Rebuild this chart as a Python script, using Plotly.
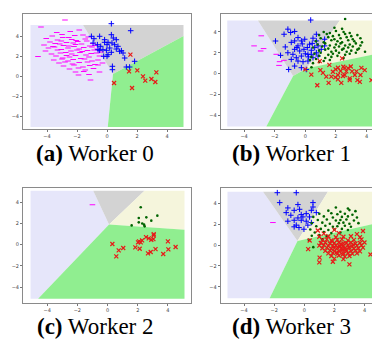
import plotly.graph_objects as go

# ---------------- decision-region polygons (data coordinates) ----------------
# Worker 0
a_lav_rx = [-5.1, -5.1, -1.6, 0.4, 0.05]
a_lav_ry = [-5.1, 5.1, 5.1, 0.2, -5.1]
a_gray_rx = [-1.6, 5.1, 5.1, 0.4]
a_gray_ry = [5.1, 5.1, 4.0, 0.2]
a_grn_rx = [0.4, 5.1, 5.1, 0.05]
a_grn_ry = [0.2, 4.0, -5.1, -5.1]
# Worker 1
b_lav_rx = [-5.1, -5.1, -3.1, -0.8, -2.55]
b_lav_ry = [-5.1, 5.1, 5.1, -0.25, -5.1]
b_gray_rx = [-3.1, 2.25, 0.1, -0.8]
b_gray_ry = [5.1, 5.1, 0.5, -0.25]
b_beige_rx = [2.25, 5.1, 5.1, 0.1]
b_beige_ry = [5.1, 5.1, 2.05, 0.5]
b_grn_rx = [-0.8, 0.1, 5.1, 5.1, -2.55]
b_grn_ry = [-0.25, 0.5, 2.05, -5.1, -5.1]
# Worker 2
c_lav_rx = [-5.1, -5.1, -0.95, 0.1, -4.6]
c_lav_ry = [-5.1, 5.1, 5.1, 1.9, -5.1]
c_gray_rx = [-0.95, 2.45, 0.1]
c_gray_ry = [5.1, 5.1, 1.9]
c_beige_rx = [2.45, 5.1, 5.1, 0.1]
c_beige_ry = [5.1, 5.1, 1.4, 1.9]
c_grn_rx = [0.1, 5.1, 5.1, -4.6]
c_grn_ry = [1.9, 1.4, -5.1, -5.1]
# Worker 3
d_lav_rx = [-5.1, -5.1, -2.74, -0.45, -2.3]
d_lav_ry = [-5.1, 5.1, 5.1, 0.4, -5.1]
d_gray_rx = [-2.74, 1.57, -0.45]
d_gray_ry = [5.1, 5.1, 0.4]
d_beige_rx = [1.57, 5.1, 5.1, -0.45]
d_beige_ry = [5.1, 5.1, 2.2, 0.4]
d_grn_rx = [-0.45, 5.1, 5.1, -2.3]
d_grn_ry = [0.4, 2.2, -5.1, -5.1]

# ---------------- samples ----------------
# Worker 0
a_mag_x = [-4.4, -2.8, -2.45, -3.35, -1.85, -3.65, -3.0, -2.55, -2.15, -1.6, -1.25,
           -4.05, -3.3, -2.95, -2.35, -2.05, -1.45, -3.8, -3.45, -3.05, -2.7, -2.25, -1.95, -1.35, -0.95,
           -4.2, -3.6, -3.15, -2.9, -2.55, -2.1, -1.7, -1.15, -0.8,
           -3.9, -3.5, -3.05, -2.6, -2.2, -1.85, -1.55, -1.0, -0.65,
           -4.1, -3.3, -2.75, -2.4, -2.0, -1.65, -1.3, -0.85, -0.4,
           -3.7, -3.1, -2.7, -2.35, -1.8, -1.4, -1.05, -0.7,
           -4.6, -3.4, -2.95, -2.5, -2.1, -1.75, -1.2, -0.5,
           -3.55, -3.0, -2.6, -2.25, -1.5, -1.0, -0.6,
           -3.2, -2.8, -2.3, -1.85, -1.3, -0.8, -0.3,
           -2.9, -2.2, -1.6, -1.15, -0.6,
           -2.5, -1.9, -1.45, -0.9, -2.1, -1.55, -0.5, -1.9, -1.2, -1.1]
a_mag_y = [4.9, 5.6, 4.45, 4.35, 4.6, 4.0, 4.15, 3.85, 4.05, 4.1, 3.9,
           3.75, 3.6, 3.85, 3.65, 3.55, 3.7, 3.4, 3.25, 3.5, 3.35, 3.3, 3.45, 3.5, 3.25,
           3.1, 2.95, 3.2, 3.05, 3.0, 3.15, 3.2, 3.0, 3.05,
           2.8, 2.9, 2.65, 2.8, 2.95, 2.7, 2.85, 2.9, 2.7,
           2.5, 2.6, 2.35, 2.5, 2.6, 2.45, 2.55, 2.6, 2.4,
           2.2, 2.3, 2.05, 2.2, 2.35, 2.1, 2.25, 2.3,
           1.95, 2.0, 1.8, 1.9, 2.05, 1.75, 1.9, 2.0,
           1.6, 1.7, 1.5, 1.65, 1.7, 1.5, 1.6,
           1.3, 1.4, 1.2, 1.35, 1.4, 1.15, 1.3,
           1.0, 1.1, 0.9, 1.05, 1.1,
           0.7, 0.8, 0.6, 0.75, 0.4, 0.45, 0.4, 0.1, 0.15, -0.4]
a_blue_x = [0.29, 1.58, -1.04, -0.49, -0.87, 0.29, 0.42, 0.62, -0.93, -0.16, 0.07, 0.0,
            0.33, 0.51, 0.73, 0.62, -0.42, -0.27, -0.04, -0.49, 0.07, 0.29, 0.84, 1.07,
            0.96, 1.18, 1.84, 1.29, 1.51, 0.36, 0.36, 0.0, -0.22, -0.64, -0.16, -0.6, 0.18]
a_blue_y = [5.23, 4.53, 3.97, 3.97, 3.73, 4.13, 3.8, 3.63, 3.3, 3.37, 3.37, 3.13,
            3.3, 3.13, 2.97, 2.7, 2.97, 2.63, 2.57, 2.57, 2.13, 2.37, 2.47, 2.3,
            2.53, 1.8, 1.47, 0.9, 0.9, 0.97, 0.63, 1.97, 1.97, 3.13, 3.63, 2.63, 2.8]
a_red_x = [1.56, 1.47, 2.02, 2.4, 2.55, 2.96, 3.29, 3.22, 0.47, 1.67]
a_red_y = [2.13, 0.47, 0.57, -0.03, -0.47, -0.3, 0.37, -0.6, -0.7, -1.2]

# Worker 1
b_mag_x = [-2.88, -3.35, -2.92, -2.73, -1.9, -1.68, -1.4, -1.72]
b_mag_y = [3.63, 2.66, 2.17, 2.4, 1.85, 1.14, 1.27, 0.78]
b_blue_x = [0.35, -1.14, -0.96, -0.7, -1.95, -1.39, -0.48, -0.92, -0.26, -0.04, 0.5, 0.72,
            0.28, -0.48, -0.7, -0.37, -0.09, 0.13, 0.39, 0.61, 0.83, 1.04, 1.26, 0.72,
            0.17, -0.26, -0.59, -0.92, -0.48, -0.15, 0.17, 0.5, -1.14, -1.31, -1.09, -0.7,
            -0.26, 0.06, 0.39, 0.72, 1.26, 0.83, -0.81, -1.62, -0.7, -0.2, 0.0, 0.45, -0.55, 0.2]
b_blue_y = [5.15, 4.27, 3.95, 4.05, 3.13, 3.78, 3.46, 3.0, 3.14, 3.3, 3.4, 3.14,
            2.82, 2.66, 2.33, 2.17, 2.33, 2.5, 2.24, 2.5, 2.66, 2.33, 2.66, 2.0,
            1.85, 1.68, 1.52, 1.36, 1.2, 1.14, 1.2, 1.52, 2.0, 2.56, 0.39, 0.72,
            0.56, 0.39, 1.85, 3.78, 3.3, 1.68, 1.85, 1.75, 3.14, 2.85, 1.9, 2.9, 2.5, 1.6]
b_green_x = [1.9, 2.4, 1.2, 1.6, 2.0, 2.5, 2.9, 0.9, 1.4, 1.8, 2.2, 2.6, 3.0, 3.4,
             1.0, 1.5, 1.9, 2.3, 2.7, 3.1, 3.6, 0.7, 1.2, 1.7, 2.1, 2.4, 2.8, 3.2, 3.7,
             0.8, 1.3, 1.6, 2.0, 2.3, 2.6, 2.9, 3.3, 3.6,
             0.5, 1.1, 1.5, 1.9, 2.2, 2.5, 2.8, 3.1, 3.5,
             0.9, 1.3, 1.7, 2.0, 2.4, 2.7, 3.0, 3.4, 3.9,
             0.6, 1.0, 1.5, 1.8, 2.2, 2.6, 2.9, 3.3,
             0.4, 0.9, 1.3, 1.7, 2.1, 2.5, 0.3, 0.7, 1.2, 1.6, 0.5, 0.9, 0.4, 2.6]
b_green_y = [4.4, 4.3, 4.0, 3.9, 4.1, 4.0, 3.9, 3.7, 3.8, 3.6, 3.7, 3.8, 3.6, 3.7,
             3.4, 3.5, 3.3, 3.4, 3.5, 3.3, 3.4, 3.1, 3.0, 3.2, 3.1, 3.0, 3.2, 3.1, 3.0,
             2.8, 2.9, 2.7, 2.8, 2.9, 2.7, 2.8, 2.9, 2.7,
             2.5, 2.6, 2.4, 2.5, 2.6, 2.4, 2.5, 2.6, 2.4,
             2.2, 2.3, 2.1, 2.2, 2.3, 2.1, 2.2, 2.3, 2.1,
             1.9, 2.0, 1.8, 1.9, 2.0, 1.8, 1.9, 2.0,
             1.6, 1.7, 1.5, 1.6, 1.7, 1.5, 1.3, 1.4, 1.2, 1.3, 1.0, 1.1, 0.6, 5.25]
b_red_x = [0.0, 0.39, 0.78, 0.94, 0.98, 1.15, 1.52, 1.7, 1.8, 1.98, 2.13, 2.4, 2.48, 2.3,
           2.13, 1.96, 2.13, 2.35, 2.46, 2.68, 2.79, 2.97, 3.05, 2.9, 2.9, 3.23, 3.4,
           3.56, 3.66, 3.88, 4.32, 3.6, 2.57, 1.57, 1.37, 3.34, 2.57]
b_red_y = [0.4, -0.1, -1.13, 1.2, 0.32, 0.06, -0.9, -0.3, 0.17, 0.4, 0.56, 1.46, 0.65, 0.24,
           -0.14, -0.37, -0.57, -0.9, -0.24, 0.2, 0.52, 0.68, 0.2, -0.47, -0.63, -0.14, -0.63,
           -0.8, 0.55, 0.33, -0.63, -0.14, 0.55, 0.84, -0.3, 0.2, -0.14]

# Worker 2
c_mag_x = [-1.0]
c_mag_y = [3.77]
c_green_x = [2.2, 2.07, 2.57, 3.3, 2.9, 2.07, 2.42, 2.46, 1.6, 2.3]
c_green_y = [3.53, 2.52, 2.58, 2.74, 2.27, 2.11, 1.89, 1.73, 1.82, 2.0]
c_red_x = [0.32, 0.74, 1.04, 0.58, 1.84, 2.13, 2.02, 2.2, 2.29, 2.55, 2.73, 2.9, 3.04,
           3.06, 3.06, 3.18, 2.86, 2.68, 3.69, 4.03, 4.0, 4.51, 2.09]
c_red_y = [0.07, -0.53, -0.31, -1.1, -0.25, -0.38, 0.22, 0.22, 0.41, 0.72, 0.6, 0.47, 0.53,
           0.88, 1.0, -0.41, -0.69, -0.82, -0.88, -0.44, 0.31, -0.22, 0.31]

# Worker 3
d_mag_x = [-2.08]
d_mag_y = [2.16]
d_blue_x = [-1.79, -0.53, -1.63, -0.42, 0.58, -1.2, -0.67, -0.31, -1.09, -0.2, 0.13, 0.47,
            0.8, -1.09, -0.67, -0.2, 0.13, -0.53, -0.35, -0.02, 0.24, 0.47, 0.35, -0.67,
            -0.89, -0.09, 0.58, -0.42]
d_blue_y = [5.02, 5.02, 4.07, 3.88, 4.07, 3.11, 3.33, 3.43, 3.56, 2.92, 3.01, 3.33,
            3.11, 2.29, 2.38, 2.38, 2.29, 1.91, 1.68, 1.52, 1.91, 2.16, 2.7, 1.75,
            2.86, 2.7, 3.65, 2.6]
d_green_x = [2.1, 2.9, 1.6, 2.4, 3.0, 3.4, 1.0, 1.8, 2.2, 2.7, 3.2,
             0.6, 1.3, 1.9, 2.5, 2.9, 3.5, 0.9, 1.5, 2.1, 2.4, 2.8, 3.3,
             0.5, 1.2, 1.7, 2.3, 2.6, 3.0, 3.6, 0.8, 1.4, 1.9, 2.2, 2.7, 3.1,
             0.4, 1.1, 1.6, 2.0, 2.5, 2.9, 0.7, 1.3, 1.8, 2.4, 0.5, 1.0, 1.5, 0.3, 1.2, 0.6]
d_green_y = [3.6, 3.5, 3.3, 3.2, 3.35, 3.25, 3.0, 3.05, 2.95, 3.0, 2.9,
             2.7, 2.75, 2.65, 2.7, 2.75, 2.65, 2.4, 2.45, 2.35, 2.4, 2.45, 2.35,
             2.1, 2.15, 2.05, 2.1, 2.15, 2.05, 2.1, 1.8, 1.85, 1.75, 1.8, 1.85, 1.75,
             1.5, 1.55, 1.45, 1.5, 1.55, 1.45, 1.2, 1.25, 1.15, 1.2, 0.9, 0.95, 0.85, 0.5, 0.55, -0.2]
d_red_x = [0.9, 2.0, 3.9, 1.3, 2.3, 3.5, 1.0, 1.6, 2.1, 2.6, 3.1, 3.7,
           1.2, 1.5, 1.8, 2.2, 2.5, 2.9, 3.3, 3.8,
           1.1, 1.4, 1.7, 2.0, 2.3, 2.6, 2.8, 3.1, 3.4, 3.7, 4.0,
           1.0, 1.3, 1.6, 1.9, 2.1, 2.4, 2.6, 2.9, 3.2, 3.5, 3.8,
           1.2, 1.5, 1.8, 2.0, 2.2, 2.5, 2.7, 3.0, 3.3, 3.6, 3.9,
           1.4, 1.7, 2.0, 2.3, 2.5, 2.8, 3.1, 3.4, 3.7,
           1.6, 1.9, 2.2, 2.6, 2.9, 3.2, 3.5,
           1.8, 2.3, 2.7, 3.0, 1.02, 2.0, 2.6, 1.0, 1.9, 3.0,
           5.12, 0.36, 0.26, 4.4, 2.35, 2.45, 2.75, 2.15, 1.85, 2.55, 3.25, 2.95]
d_red_y = [1.4, 1.45, 1.35, 1.1, 1.15, 1.05, 0.8, 0.85, 0.75, 0.8, 0.85, 0.75,
           0.5, 0.55, 0.45, 0.5, 0.55, 0.45, 0.5, 0.55,
           0.2, 0.25, 0.15, 0.2, 0.25, 0.15, 0.2, 0.25, 0.15, 0.2, 0.25,
           -0.05, 0.0, -0.1, -0.05, 0.0, -0.1, -0.05, 0.0, -0.1, -0.05, 0.0,
           -0.3, -0.25, -0.35, -0.3, -0.25, -0.35, -0.3, -0.25, -0.35, -0.3, -0.25,
           -0.55, -0.5, -0.6, -0.55, -0.5, -0.6, -0.55, -0.5, -0.6,
           -0.8, -0.75, -0.85, -0.8, -0.75, -0.85, -0.8,
           -1.05, -1.0, -1.1, -1.05, -1.2, -1.3, -1.35, -1.65, -1.6, -1.85,
           0.7, 0.44, -0.38, -0.9, -0.15, 0.1, -0.45, -0.7, 0.35, -0.9, 0.05, -0.2]

# ---------------- style ----------------
LAV, GRAY, BEIGE, GREEN = "#e6e6fa", "#d3d3d3", "#f5f5dc", "#90ee90"

fig = go.Figure()

def region(xs, ys, color, ax):
    fig.add_trace(go.Scatter(x=xs, y=ys, fill="toself", fillcolor=color, mode="lines",
                             line=dict(width=0, color=color), hoverinfo="skip",
                             xaxis="x" + ax, yaxis="y" + ax, showlegend=False))

def pts(xs, ys, kind, ax):
    if kind == "mag":
        m = dict(symbol="line-ew-open", size=4, color="#ff00ff", line=dict(color="#ff00ff", width=1))
    elif kind == "blue":
        m = dict(symbol="cross-thin-open", size=4, color="#0000ff", line=dict(color="#0000ff", width=1))
    elif kind == "green":
        m = dict(symbol="circle", size=2.6, color="#006400", line=dict(width=0))
    else:
        m = dict(symbol="x-thin-open", size=4, color="#e81818", line=dict(color="#e81818", width=1.2))
    fig.add_trace(go.Scatter(x=xs, y=ys, mode="markers", marker=m,
                             xaxis="x" + ax, yaxis="y" + ax, showlegend=False))

# panel a (axis suffix "")
region(a_lav_rx, a_lav_ry, LAV, ""); region(a_gray_rx, a_gray_ry, GRAY, ""); region(a_grn_rx, a_grn_ry, GREEN, "")
pts(a_mag_x, a_mag_y, "mag", ""); pts(a_blue_x, a_blue_y, "blue", ""); pts(a_red_x, a_red_y, "red", "")
# panel b
region(b_lav_rx, b_lav_ry, LAV, "2"); region(b_gray_rx, b_gray_ry, GRAY, "2")
region(b_beige_rx, b_beige_ry, BEIGE, "2"); region(b_grn_rx, b_grn_ry, GREEN, "2")
pts(b_mag_x, b_mag_y, "mag", "2"); pts(b_blue_x, b_blue_y, "blue", "2")
pts(b_green_x, b_green_y, "green", "2"); pts(b_red_x, b_red_y, "red", "2")
# panel c
region(c_lav_rx, c_lav_ry, LAV, "3"); region(c_gray_rx, c_gray_ry, GRAY, "3")
region(c_beige_rx, c_beige_ry, BEIGE, "3"); region(c_grn_rx, c_grn_ry, GREEN, "3")
pts(c_mag_x, c_mag_y, "mag", "3"); pts(c_green_x, c_green_y, "green", "3"); pts(c_red_x, c_red_y, "red", "3")
# panel d
region(d_lav_rx, d_lav_ry, LAV, "4"); region(d_gray_rx, d_gray_ry, GRAY, "4")
region(d_beige_rx, d_beige_ry, BEIGE, "4"); region(d_grn_rx, d_grn_ry, GREEN, "4")
pts(d_mag_x, d_mag_y, "mag", "4"); pts(d_blue_x, d_blue_y, "blue", "4")
pts(d_green_x, d_green_y, "green", "4"); pts(d_red_x, d_red_y, "red", "4")

W, H = 380, 342
def ax(dom, rng, anchor):
    return dict(domain=dom, range=rng, anchor=anchor, tickvals=[-4, -2, 0, 2, 4],
                tickfont=dict(size=5, color="#444", family="DejaVu Sans"),
                ticks="outside", ticklen=2, tickwidth=0.6, tickcolor="#777",
                showline=True, mirror=True, linecolor="#8a8a8a", linewidth=1,
                showgrid=False, zeroline=False, fixedrange=True)

xa = [15 / W, 183 / W]
xb = [212.7 / W, 378 / W]
ytop = [1 - 121 / H, 1 - 6 / H]
ybot = [1 - 295 / H, 1 - 180 / H]

fig.update_layout(
    width=W, height=H, margin=dict(l=0, r=0, t=0, b=0),
    paper_bgcolor="white", plot_bgcolor="white", showlegend=False,
    font=dict(family="Liberation Serif"),
    xaxis=ax(xa, [-5.6, 5.6], "y"), yaxis=ax(ytop, [-5.3, 6.2], "x"),
    xaxis2=ax(xb, [-5.53, 5.27], "y2"), yaxis2=ax(ytop, [-5.34, 5.73], "x2"),
    xaxis3=ax(xa, [-5.6, 5.53], "y3"), yaxis3=ax(ybot, [-5.5, 5.35], "x3"),
    xaxis4=ax(xb, [-5.55, 5.43], "y4"), yaxis4=ax(ybot, [-5.55, 5.47], "x4"),
)

captions = [("<b>(a)</b> Worker 0", 87, 145), ("<b>(b)</b> Worker 1", 283, 145),
            ("<b>(c)</b> Worker 2", 87, 318), ("<b>(d)</b> Worker 3", 283, 318)]
for txt, cx, cy in captions:
    fig.add_annotation(text=txt, x=cx / W, y=1 - cy / H, xref="paper", yref="paper",
                       showarrow=False, xanchor="center", yanchor="middle",
                       font=dict(family="Liberation Serif", size=23, color="black"))

fig.write_html("out.html")
